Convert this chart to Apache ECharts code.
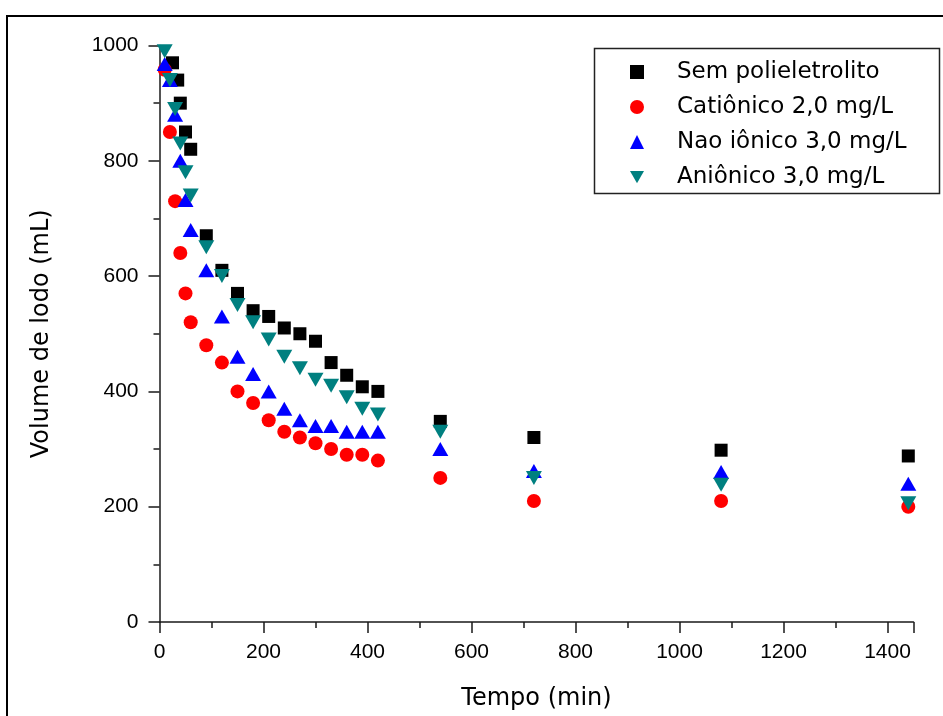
<!DOCTYPE html>
<html>
<head>
<meta charset="utf-8">
<script src="https://cdn.jsdelivr.net/npm/echarts@6/dist/echarts.min.js"></script>
<style>
html,body{margin:0;padding:0;background:#fff;}
#chart{width:943px;height:716px;}
</style>
</head>
<body>
<div id="chart"></div>
<script>
// ---- data ----
var seriesNames = ['Sem polieletrolito', 'Catiônico 2,0 mg/L', 'Nao iônico 3,0 mg/L', 'Aniônico 3,0 mg/L'];
var timeSem = [25, 35, 40, 50, 60, 90, 120, 150, 180, 210, 240, 270, 300, 330, 360, 390, 420, 540, 720, 1080, 1440];
var valSem = [970, 940, 900, 850, 820, 670, 610, 570, 540, 530, 510, 500, 487, 450, 428, 408, 400, 348, 320, 298, 288];
var timeMin = [10, 20, 30, 40, 50, 60, 90, 120, 150, 180, 210, 240, 270, 300, 330, 360, 390, 420, 540, 720, 1080, 1440];
var valCat = [958, 850, 730, 640, 570, 520, 480, 450, 400, 380, 350, 330, 320, 310, 300, 290, 290, 280, 250, 210, 210, 200];
var valNao = [968, 940, 880, 800, 732, 680, 610, 530, 460, 430, 400, 370, 350, 340, 340, 330, 330, 330, 300, 262, 260, 240];
var valAni = [990, 940, 890, 830, 780, 740, 650, 600, 550, 520, 490, 460, 440, 420, 410, 390, 370, 360, 330, 250, 238, 206];

function pairs(xs, ys) { return xs.map(function (x, i) { return [x, ys[i]]; }); }

var chart = echarts.init(document.getElementById('chart'), null, { renderer: 'canvas' });
var axisColor = '#1a1a1a';
var downTri = 'path://M0,0 L16,0 L8,14 Z';
var option = {
  backgroundColor: '#ffffff',
  animation: false,
  grid: { left: 159.5, right: 29.5, top: 45.5, bottom: 94, containLabel: false },
  graphic: [
    { type: 'polyline', shape: { points: [[7, 740], [7, 16], [950, 16]] }, style: { stroke: '#000', lineWidth: 2, fill: null }, silent: true },
    { type: 'rect', shape: { x: 594.5, y: 48.5, width: 345, height: 145 }, style: { stroke: '#222', lineWidth: 1.5, fill: '#fff' }, z: 5, silent: true }
  ],
  legend: {
    orient: 'vertical',
    left: 630, top: 59,
    padding: 0,
    itemWidth: 14, itemHeight: 14,
    itemGap: 9,
    z: 10,
    textStyle: { fontFamily: 'DejaVu Sans', fontSize: 23, color: '#000', padding: [0, 0, 0, 28], lineHeight: 26 },
    data: seriesNames
  },
  xAxis: {
    type: 'value', min: 0, max: 1450, interval: 200,
    name: 'Tempo (min)', nameLocation: 'middle', nameGap: 65,
    nameTextStyle: { fontFamily: 'DejaVu Sans', fontSize: 24, color: '#000' },
    axisLine: { show: true, onZero: false, lineStyle: { color: axisColor, width: 1.5 } },
    axisTick: { show: true, inside: false, length: 11, lineStyle: { color: axisColor, width: 1.5 } },
    minorTick: { show: true, splitNumber: 2, length: 6, lineStyle: { color: axisColor, width: 1.5 } },
    axisLabel: { fontFamily: 'Liberation Sans', fontSize: 21, color: '#000', margin: 20, formatter: function (v) { return String(v); } },
    splitLine: { show: false }
  },
  yAxis: {
    type: 'value', min: 0, max: 1000, interval: 200,
    name: 'Volume de lodo (mL)', nameLocation: 'middle', nameGap: 106,
    nameTextStyle: { fontFamily: 'DejaVu Sans', fontSize: 24, color: '#000' },
    axisLine: { show: true, onZero: false, lineStyle: { color: axisColor, width: 1.5 } },
    axisTick: { show: true, inside: false, length: 11, lineStyle: { color: axisColor, width: 1.5 } },
    minorTick: { show: true, splitNumber: 2, length: 6, lineStyle: { color: axisColor, width: 1.5 } },
    axisLabel: { fontFamily: 'Liberation Sans', fontSize: 21, color: '#000', margin: 21, formatter: function (v) { return String(v); } },
    splitLine: { show: false }
  },
  series: [
    { name: seriesNames[0], type: 'scatter', symbol: 'rect', symbolSize: 13, itemStyle: { color: '#000000', opacity: 1 }, data: pairs(timeSem, valSem), z: 2 },
    { name: seriesNames[1], type: 'scatter', symbol: 'circle', symbolSize: 14, itemStyle: { color: '#ff0000', opacity: 1 }, data: pairs(timeMin, valCat), z: 2 },
    { name: seriesNames[2], type: 'scatter', symbol: 'triangle', symbolSize: [16, 14], itemStyle: { color: '#0000ff', opacity: 1 }, data: pairs(timeMin, valNao), z: 2 },
    { name: seriesNames[3], type: 'scatter', symbol: downTri, symbolSize: [16, 14], itemStyle: { color: '#008080', opacity: 1 }, data: pairs(timeMin, valAni), z: 2 }
  ]
};
chart.setOption(option);
</script>
</body>
</html>
